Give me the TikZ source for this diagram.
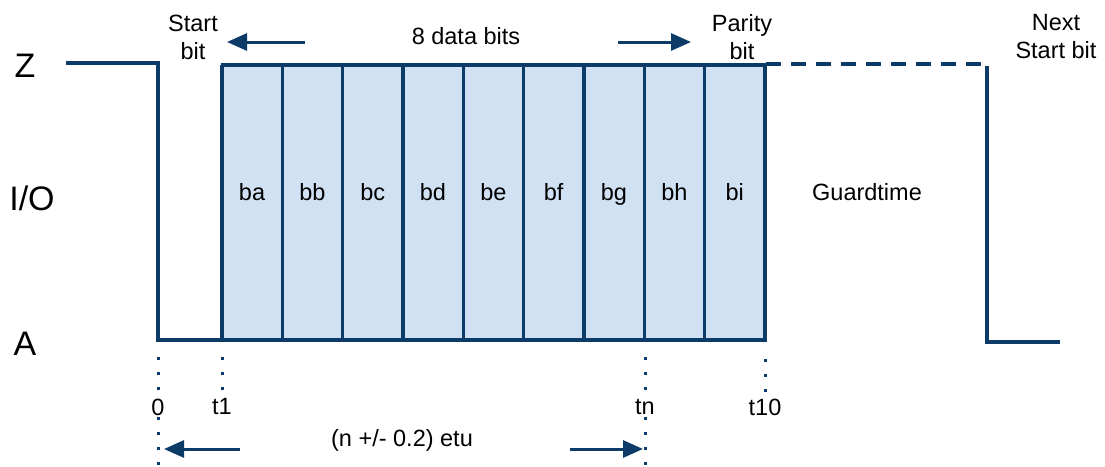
\documentclass[tikz,border=0pt]{standalone}
\usepackage{fontspec}
\setmainfont{Liberation Sans}
\usetikzlibrary{arrows.meta}
\definecolor{sig}{RGB}{12,59,104}
\definecolor{cellfill}{RGB}{207,225,242}
\begin{document}
\begin{tikzpicture}[x=1pt,y=-1pt,
  sigline/.style={draw=sig,line width=3.2pt},
  dotline/.style={draw=sig,line width=3pt,dash pattern=on 3pt off 12pt},
  dashline/.style={draw=sig,line width=3.2pt,dash pattern=on 15pt off 10pt},
  arr/.style={draw=sig,line width=3pt,-{Triangle[length=20pt,width=17pt]}},
  lbl/.style={font=\fontsize{23.5}{28}\selectfont,inner sep=0pt,align=center},
  big/.style={font=\fontsize{34}{38}\selectfont,inner sep=0pt}]
\useasboundingbox (0,0) rectangle (1105,466);
% cells
\fill[cellfill] (222,65) rectangle (765,340);
\draw[sigline,line join=miter] (66,63) -- (158,63) -- (158,340) -- (765,340);
\draw[sigline] (220.5,65) -- (766.5,65);
\foreach \i in {0,...,9} {
  \draw[sigline] ({222+60.33*\i},65) -- ({222+60.33*\i},341.5);
}
\foreach \t [count=\i from 0] in {ba,bb,bc,bd,be,bf,bg,bh,bi} {
  \node[lbl,anchor=base] (cell\t) at ({252+60.33*\i},200) {\t};
}
% guardtime
\draw[dashline] (766,64) -- (985,64);
\draw[sigline,line join=miter] (987,66) -- (987,342) -- (1060,342);
\node[lbl,anchor=base] (guard) at (867,200) {Guardtime};
% level labels
\node[big,anchor=base] (Z) at (25,77) {Z};
\node[big,anchor=base] (IO) at (32,210) {I/O};
\node[big,anchor=base] (A) at (25,355) {A};
% top labels
\node[lbl] (start) at (193,37) {Start\\bit};
\node[lbl] (data) at (466,36) {8 data bits};
\node[lbl] (parity) at (742,37) {Parity\\bit};
\node[lbl] (next) at (1056,37) {Next\\Start bit};
\coordinate (la) at (305,42); \coordinate (lb) at (227,42);
\coordinate (ra) at (618,42); \coordinate (rb) at (691,42);
\draw[arr] (la) -- (lb);
\draw[arr] (ra) -- (rb);
% time markers
\draw[dotline] (158,357) -- (158,395);
\draw[dotline] (158,417) -- (158,466);
\draw[dotline] (222,357) -- (222,392);
\draw[dotline] (645,357) -- (645,392);
\draw[dotline] (645,417) -- (645,466);
\draw[dotline] (765,359) -- (765,392);
\node[lbl] (t0) at (158,407) {0};
\node[lbl] (t1) at (222,407) {t1};
\node[lbl] (tn) at (645,407) {tn};
\node[lbl] (t10) at (765,407) {t10};
\node[lbl] (etu) at (402,440) {(n +/- 0.2) etu};
\coordinate (ba1) at (240,449); \coordinate (ba2) at (164,449);
\coordinate (bb1) at (570,449); \coordinate (bb2) at (643,449);
\draw[arr] (ba1) -- (ba2);
\draw[arr] (bb1) -- (bb2);
\end{tikzpicture}
\end{document}
